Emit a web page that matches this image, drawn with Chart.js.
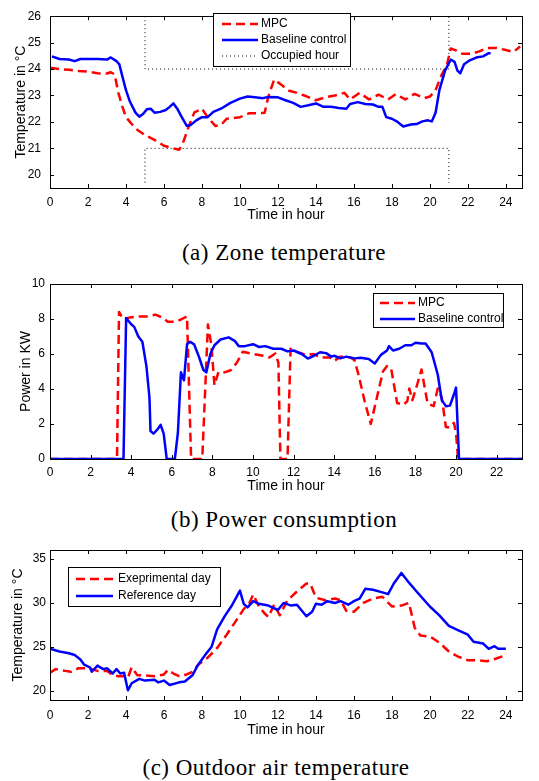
<!DOCTYPE html>
<html>
<head>
<meta charset="utf-8">
<title>Zone temperature, power consumption and outdoor air temperature</title>
<script src="https://cdn.jsdelivr.net/npm/chart.js@4.4.1/dist/chart.umd.min.js"></script>
<style>
  html, body { margin: 0; padding: 0; background: #fff; }
  body { position: relative; width: 539px; height: 781px; overflow: hidden; }
  canvas { position: absolute; left: 0; }
  .caption {
    position: absolute; width: 400px; height: 26px; line-height: 26px; text-align: center;
    font-family: "Liberation Serif", "Times New Roman", serif; font-size: 23px;
    letter-spacing: 0.5px; color: #000; white-space: nowrap;
  }
</style>
</head>
<body>
<canvas id="zoneChart" width="539" height="230" style="top:0"></canvas>
<div class="caption" style="left:84px; top:240px">(a) Zone temperature</div>
<canvas id="powerChart" width="539" height="230" style="top:270px"></canvas>
<div class="caption" style="left:84px; top:507px">(b) Power consumption</div>
<canvas id="outdoorChart" width="539" height="210" style="top:536px"></canvas>
<div class="caption" style="left:76px; top:755px">(c) Outdoor air temperature</div>

<script>
// (a) zone temperature
const zoneMpcHours = [0,0.5,1,1.5,2,2.5,3,3.2,3.4,3.6,3.8,4,4.5,5,5.5,6,6.5,6.8,7,7.3,7.6,8,8.3,8.7,9,9.3,10,10.5,11,11.3,11.5,11.8,12.2,12.5,13,13.5,14,14.5,15,15.5,15.8,16.3,16.8,17.3,17.8,18.2,18.7,19.2,19.7,20,20.3,20.6,20.9,21.1,21.4,21.7,22.2,22.6,23,23.5,24,24.4,24.75];
const zoneMpc = [24.05,24.0,23.97,23.93,23.9,23.84,23.83,23.88,23.8,23.1,22.6,22.18,21.75,21.5,21.32,21.1,21.0,20.95,21.2,21.82,22.36,22.5,22.18,21.85,21.88,22.12,22.18,22.33,22.33,22.35,22.97,23.6,23.4,23.2,23.1,22.97,22.82,22.93,23.0,23.1,22.85,23.1,22.85,23.03,22.85,23.05,22.85,23.06,22.9,22.96,23.2,23.75,24.17,24.78,24.7,24.58,24.58,24.67,24.8,24.8,24.72,24.65,24.85];
const zoneBaseHours = [0.1,0.5,1,1.3,1.6,2,2.5,3,3.2,3.5,3.65,3.8,4,4.2,4.5,4.7,4.9,5.1,5.3,5.5,5.8,6.1,6.3,6.5,6.7,6.9,7.2,7.4,7.7,8,8.3,8.6,9,9.5,10,10.4,10.8,11.2,11.5,12,12.4,12.8,13.2,13.6,14,14.4,14.8,15.2,15.6,15.8,16.2,16.6,17,17.3,17.5,17.7,18,18.3,18.6,19,19.3,19.6,19.9,20.1,20.3,20.5,20.8,21.1,21.3,21.45,21.6,21.8,22.1,22.5,22.8,23.1,23.2];
const zoneBase = [24.48,24.38,24.36,24.3,24.38,24.38,24.38,24.36,24.44,24.3,24.18,23.75,23.2,22.78,22.35,22.2,22.3,22.48,22.5,22.35,22.38,22.45,22.57,22.7,22.5,22.23,21.85,21.88,22.06,22.18,22.18,22.38,22.5,22.72,22.88,22.96,22.93,22.9,22.94,22.93,22.82,22.72,22.57,22.63,22.7,22.57,22.57,22.53,22.5,22.68,22.75,22.68,22.66,22.57,22.57,22.18,22.12,22.0,21.83,21.9,21.92,22.02,22.06,22.02,22.35,23.2,23.94,24.36,24.27,23.94,23.84,24.18,24.33,24.45,24.48,24.6,24.6];
// occupied-hour band: upper and lower limits, null splits them
const occupiedHours = [5,5,21,21,13,5,5,21,21];
const occupiedTemp = [26,24,24,26,null,19.7,21,21,19.7];

// (b) power
const powerMpcHours = [0,3.3,3.4,3.6,4,4.4,4.8,5.2,5.5,5.8,6.2,6.5,6.75,6.95,7.5,7.78,7.95,8.1,8.3,8.6,8.9,9.2,9.5,10,10.5,10.8,11.1,11.25,11.35,11.7,11.85,12.2,12.6,13,13.3,13.8,14,14.3,14.8,15,15.2,15.5,15.8,16.1,16.4,16.6,16.8,17.1,17.4,17.6,17.7,17.85,18.1,18.3,18.6,18.9,19.1,19.3,19.5,19.7,19.9,20.0,20.1,23.3];
const powerMpc = [0,0,8.4,8.0,8.1,8.15,8.15,8.25,8.1,7.85,7.85,8.0,8.15,0,0,7.69,6.5,4.22,4.98,4.95,5.07,5.5,6.13,6.0,5.9,5.8,6.03,5.5,0,0,6.3,6.1,5.95,6.0,5.8,5.8,5.6,5.85,5.8,5.65,4.8,3.3,2.0,3.5,5.0,5.31,5.2,3.2,3.1,3.3,4.03,3.36,4.3,5.11,3.17,3.02,4.03,3.5,1.83,1.8,2.06,1.5,0,0];
const powerBaseHours = [0,3.62,3.75,4.0,4.15,4.35,4.55,4.75,4.9,4.95,5.1,5.3,5.45,5.6,5.75,6.15,6.3,6.45,6.6,6.75,6.9,7.1,7.35,7.55,7.7,7.9,8.1,8.4,8.8,9.1,9.3,9.6,10,10.3,10.6,11,11.4,11.7,12,12.4,12.7,13,13.3,13.6,13.85,14,14.3,14.6,15,15.3,15.7,16,16.3,16.6,16.7,16.9,17.2,17.5,17.8,18.0,18.3,18.5,18.8,19.1,19.3,19.5,19.7,19.9,20.0,20.15,23.3];
const powerBase = [0,0,8.05,7.7,7.55,7.0,6.7,5.3,3.5,1.6,1.45,1.7,1.95,1.45,0,0,1.5,4.96,4.5,6.56,6.7,6.55,5.8,5.1,4.95,6.0,6.5,6.83,6.95,6.75,6.45,6.45,6.56,6.4,6.45,6.3,6.3,6.15,6.2,6.0,5.74,5.9,6.1,6.05,5.85,5.9,5.75,5.85,5.75,5.78,5.72,5.46,5.95,6.2,6.45,6.2,6.3,6.5,6.5,6.64,6.6,6.6,6.1,4.83,3.36,3.02,3.05,3.7,4.08,0,0];

// (c) outdoor air temperature
const outExpHours = [0,0.3,0.8,1.1,1.5,2,2.5,3,3.3,3.6,3.9,4.1,4.3,4.6,5,5.5,6,6.2,6.5,6.8,7.2,7.5,7.8,8.3,8.8,9.3,9.8,10.2,10.5,10.7,11,11.3,11.5,11.8,12.1,12.5,13,13.5,13.7,14,14.5,15,15.3,15.6,16,16.5,17,17.5,18,18.5,18.9,19.2,19.5,20,20.5,21,21.5,22,22.5,23,23.5,24];
const outExp = [22.1,22.5,22.3,22.2,22.6,22.6,22.3,22.3,21.8,21.7,21.7,21.5,22.7,21.8,21.8,21.7,21.9,22.4,22.0,21.7,21.9,22.2,23.0,23.8,24.9,26.4,28.0,29.3,30.0,30.95,29.6,28.8,28.4,29.8,28.6,30.3,31.3,32.2,32.2,30.6,30.3,30.5,30.3,29.1,29.0,30.0,30.5,30.7,29.6,29.7,30.0,27.2,26.3,26.2,25.5,24.5,23.9,23.5,23.5,23.4,23.7,24.1];
const outRefHours = [0,0.5,1,1.3,1.6,1.8,2.1,2.2,2.5,2.8,3,3.3,3.5,3.7,3.9,4.1,4.3,4.7,5,5.5,5.7,6,6.3,6.8,7.1,7.5,7.8,8.2,8.5,8.8,9.2,9.6,10,10.2,10.4,10.7,11,11.5,12,12.3,12.7,13,13.5,13.8,14,14.3,14.6,15,15.3,15.7,16,16.3,16.6,17,17.5,17.8,18.1,18.5,18.9,19.3,20,20.5,21,21.5,22,22.3,22.8,23.1,23.4,23.6,24];
const outRef = [24.8,24.5,24.3,24.1,23.6,23.0,22.7,22.2,22.9,22.5,22.6,22.0,22.5,22.0,22.1,20.1,20.9,21.4,21.2,21.3,21.0,21.2,20.7,21.0,21.1,21.8,23.0,24.2,25.0,27.0,28.5,29.8,31.4,29.9,29.5,30.2,29.9,29.7,29.2,30.0,29.7,29.8,28.5,29.0,29.9,29.8,30.2,30.0,30.2,29.8,30.2,30.5,31.6,31.5,31.2,31.0,32.2,33.4,32.3,31.3,29.6,28.6,27.4,26.9,26.4,25.6,25.4,24.8,25.1,24.8,24.8];

Chart.defaults.font.family = '"Liberation Sans", Arial, sans-serif';
Chart.defaults.color = '#000';

const toPoints = (hours, values) => hours.map((h, i) => ({ x: h, y: values[i] }));

const RED = '#ff0000';
const BLUE = '#0000ff';

const redDashed = (label, data) => ({
  label, data, borderColor: RED, borderWidth: 2.5, borderDash: [9, 5],
  pointRadius: 0, tension: 0, order: 2, borderJoinStyle: 'round'
});
const blueSolid = (label, data) => ({
  label, data, borderColor: BLUE, borderWidth: 2.5,
  pointRadius: 0, tension: 0, order: 1, borderJoinStyle: 'round'
});

// matlab style box with inward ticks on all four sides
const frameTicks = {
  id: 'frameTicks',
  afterDatasetsDraw(chart) {
    const { ctx, chartArea: a, scales: { x, y } } = chart;
    const L = 4;
    ctx.save();
    ctx.strokeStyle = '#000';
    ctx.lineWidth = 1;
    ctx.setLineDash([]);
    ctx.strokeRect(Math.round(a.left) + 0.5, Math.round(a.top) + 0.5,
      Math.round(a.right - a.left), Math.round(a.bottom - a.top));
    ctx.beginPath();
    x.ticks.forEach(t => {
      const px = Math.round(x.getPixelForValue(t.value)) + 0.5;
      ctx.moveTo(px, a.bottom); ctx.lineTo(px, a.bottom - L);
      ctx.moveTo(px, a.top); ctx.lineTo(px, a.top + L);
    });
    y.ticks.forEach(t => {
      const py = Math.round(y.getPixelForValue(t.value)) + 0.5;
      ctx.moveTo(a.left, py); ctx.lineTo(a.left + L, py);
      ctx.moveTo(a.right, py); ctx.lineTo(a.right - L, py);
    });
    ctx.stroke();
    ctx.restore();
  }
};

// boxed legend placed inside the plot
const boxLegend = {
  id: 'boxLegend',
  afterDatasetsDraw(chart, args, o) {
    if (!o || !o.w) return;
    const { ctx } = chart;
    const items = chart.data.datasets.filter(d => d.label);
    ctx.save();
    ctx.fillStyle = '#fff';
    ctx.fillRect(o.x, o.y, o.w, o.h);
    ctx.strokeStyle = '#000';
    ctx.lineWidth = 1;
    ctx.setLineDash([]);
    ctx.strokeRect(o.x + 0.5, o.y + 0.5, o.w, o.h);
    ctx.font = '12px "Liberation Sans", Arial, sans-serif';
    ctx.textBaseline = 'middle';
    items.forEach((d, i) => {
      const cy = o.y + o.first + i * o.row;
      ctx.strokeStyle = d.borderColor;
      ctx.lineWidth = d.borderWidth;
      ctx.setLineDash(d.borderDash || []);
      ctx.beginPath();
      ctx.moveTo(o.x + o.line0, cy);
      ctx.lineTo(o.x + o.line1, cy);
      ctx.stroke();
      ctx.fillStyle = '#000';
      ctx.fillText(d.label, o.x + o.text, cy);
    });
    ctx.restore();
  }
};

function panelOptions(p) {
  return {
    responsive: false,
    animation: false,
    devicePixelRatio: 1,
    layout: { padding: { left: 0, right: 17, top: p.top, bottom: 0 } },
    plugins: {
      legend: { display: false },
      tooltip: { enabled: false },
      boxLegend: p.legend
    },
    scales: {
      x: {
        type: 'linear', min: 0, max: p.xMax,
        grid: { display: false, drawTicks: false },
        border: { display: false },
        ticks: { stepSize: 2, padding: p.xTickPad, includeBounds: false, maxRotation: 0, autoSkip: false, font: { size: 12 } },
        title: { display: true, text: 'Time in hour', font: { size: 14 }, padding: { top: 0, bottom: p.xTitlePad } },
        afterFit: s => { s.height = p.xHeight; }
      },
      y: {
        type: 'linear', min: p.yMin, max: p.yMax,
        grid: { display: false, drawTicks: false },
        border: { display: false },
        ticks: { stepSize: p.yStep, padding: p.yTickPad, includeBounds: false, autoSkip: false, font: { size: 12 } },
        title: { display: true, text: p.yTitle, font: { size: 14 }, padding: { top: p.yTitlePad, bottom: 0 } },
        afterFit: s => { s.width = 50; }
      }
    }
  };
}

new Chart(document.getElementById('zoneChart'), {
  type: 'line',
  data: {
    datasets: [
      redDashed('MPC', toPoints(zoneMpcHours, zoneMpc)),
      blueSolid('Baseline control', toPoints(zoneBaseHours, zoneBase)),
      {
        label: 'Occupied hour', data: toPoints(occupiedHours, occupiedTemp),
        borderColor: '#000', borderWidth: 1, borderDash: [1, 3],
        pointRadius: 0, tension: 0, spanGaps: false, order: 3
      }
    ]
  },
  options: panelOptions({
    top: 10, xMax: 24.85, xHeight: 42, xTickPad: 7, xTitlePad: 6,
    yMin: 19.5, yMax: 26, yStep: 1, yTickPad: 9, yTitle: 'Temperature in \u00b0C', yTitlePad: 13,
    legend: { x: 213, y: 13, w: 137, h: 53, first: 11, row: 16, line0: 9, line1: 45, text: 48 }
  }),
  plugins: [frameTicks, boxLegend]
});

new Chart(document.getElementById('powerChart'), {
  type: 'line',
  data: {
    datasets: [
      redDashed('MPC', toPoints(powerMpcHours, powerMpc)),
      blueSolid('Baseline control', toPoints(powerBaseHours, powerBase))
    ]
  },
  options: panelOptions({
    top: 14, xMax: 23.25, xHeight: 41, xTickPad: 6, xTitlePad: 5,
    yMin: 0, yMax: 10, yStep: 2, yTickPad: 5, yTitle: 'Power in KW', yTitlePad: 18,
    legend: { x: 373, y: 23, w: 130, h: 34, first: 10, row: 16, line0: 7, line1: 42, text: 45 }
  }),
  plugins: [frameTicks, boxLegend]
});

new Chart(document.getElementById('outdoorChart'), {
  type: 'line',
  data: {
    datasets: [
      redDashed('Exeprimental day', toPoints(outExpHours, outExp)),
      blueSolid('Reference day', toPoints(outRefHours, outRef))
    ]
  },
  options: panelOptions({
    top: 14, xMax: 24.85, xHeight: 46, xTickPad: 8, xTitlePad: 7,
    yMin: 19, yMax: 36, yStep: 5, yTickPad: 4, yTitle: 'Temperature in \u00b0C', yTitlePad: 10,
    legend: { x: 68, y: 31, w: 152, h: 39, first: 12, row: 17, line0: 8, line1: 45, text: 50 }
  }),
  plugins: [frameTicks, boxLegend]
});
</script>
</body>
</html>
